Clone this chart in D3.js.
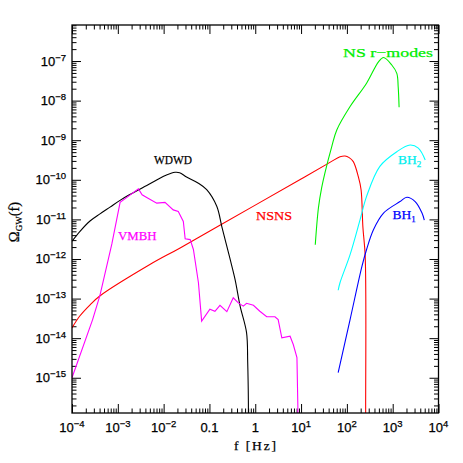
<!DOCTYPE html>
<html lang="en">
<head>
<meta charset="utf-8"/>
<title>GW backgrounds</title>
<script src="https://cdn.jsdelivr.net/npm/d3@7"></script>
<style>
  body { margin: 0; background: #fff; }
  svg { display: block; }
</style>
</head>
<body>
<svg id="chart"></svg>
<script>
// values, as log10(f / Hz) and log10(Omega_GW)
const wdwdLogF = [-4, -3.825, -3.607, -3.389, -3.17, -2.952, -2.749, -2.3, -2, -1.85, -1.75, -1.65, -1.5, -1.25, -1.06, -0.84, -0.73, -0.55, -0.44, -0.33, -0.19, -0.165, -0.15, -0.15]
const wdwdLogO = [-11.55, -11.3, -11.04, -10.86, -10.69, -10.52, -10.38, -10.1, -9.91, -9.84, -9.81, -9.82, -9.93, -10.08, -10.25, -10.67, -11.18, -12.0, -12.52, -13.19, -13.86, -14.6, -15.6, -17]

const vmbhLogF = [-4, -3.55, -3.39, -3.13, -2.95, -2.75, -2.55, -2.47, -2.35, -2.15, -1.97, -1.79, -1.68, -1.57, -1.53, -1.42, -1.35, -1.24, -1.17, -0.99, -0.88, -0.77, -0.62, -0.48, -0.37, -0.26, -0.19, -0.04, 0.10, 0.25, 0.43, 0.50, 0.58, 0.76, 0.83, 0.91, 0.93, 0.93]
const vmbhLogO = [-15.0, -13.53, -12.92, -11.62, -10.57, -10.4, -10.23, -10.38, -10.46, -10.59, -10.57, -10.76, -10.8, -11.05, -11.49, -11.51, -11.76, -12.6, -13.57, -13.27, -13.32, -13.17, -13.33, -12.98, -13.11, -13.19, -13.12, -13.17, -13.32, -13.46, -13.46, -13.53, -13.99, -13.95, -14.16, -14.49, -15.71, -17]

const nsnsLogF = [-4, -3.83, -3.6, -3.4, -2.3, -1.64, 0, 1, 1.63, 1.85, 1.96, 2.05, 2.14, 2.25, 2.31, 2.35, 2.4, 2.41, 2.41]
const nsnsLogO = [-13.74, -13.44, -13.15, -12.94, -12.14, -11.72, -10.64, -9.98, -9.56, -9.42, -9.4, -9.44, -9.54, -9.92, -10.25, -11.2, -11.93, -15.8, -17]

const rmodeLogF = [1.31, 1.38, 1.45, 1.52, 1.67, 1.78, 2.07, 2.43, 2.69, 2.8, 2.98, 3.09, 3.12, 3.14]
const rmodeLogO = [-11.64, -10.7, -10.2, -9.83, -9.16, -8.74, -8.15, -7.56, -7.02, -6.91, -7.1, -7.31, -7.65, -8.17]

const bh2LogF = [1.81, 1.85, 2.07, 2.29, 2.43, 2.72, 3.09, 3.38, 3.56, 3.71]
const bh2LogO = [-12.79, -12.6, -11.89, -11.0, -10.42, -9.66, -9.29, -9.12, -9.2, -9.5]

const bh1LogF = [1.81, 2.07, 2.33, 2.43, 2.58, 2.8, 3.16, 3.31, 3.49, 3.64, 3.69]
const bh1LogO = [-14.87, -13.53, -12.18, -11.76, -11.26, -10.84, -10.55, -10.44, -10.55, -10.84, -11.02]

const xMajorExp = [-4, -3, -2, -1, 0, 1, 2, 3, 4]
const xTickLabels = [['10', '-4'], ['10', '-3'], ['10', '-2'], ['0.1', ''], ['1', ''], ['10', '1'], ['10', '2'], ['10', '3'], ['10', '4']]
const yMajorExp = [-15, -14, -13, -12, -11, -10, -9, -8, -7]

const width = 463
const height = 463
const plotL = 72, plotR = 438.5, plotT = 25, plotB = 413

const svg = d3.select('#chart').attr('width', width).attr('height', height)

const x = d3.scaleLog().domain([1e-4, 1e4]).range([plotL, plotR])
const y = d3.scaleLog().domain([Math.pow(10, -15.89), Math.pow(10, -6.09)]).range([plotB, plotT])

svg.append('defs').append('clipPath').attr('id', 'plotclip')
  .append('rect').attr('x', plotL).attr('y', plotT).attr('width', plotR - plotL).attr('height', plotB - plotT)

// minor ticks 2..9 in each decade
function minors(lo, hi, dom) {
  const out = []
  for (let e = lo; e <= hi; e++) {
    for (let m = 2; m <= 9; m++) {
      const v = m * Math.pow(10, e)
      if (v > dom[0] && v < dom[1]) out.push(v)
    }
  }
  return out
}
const xMajor = xMajorExp.map(e => Math.pow(10, e))
const yMajor = yMajorExp.map(e => Math.pow(10, e))
const xMinor = minors(-4, 3, x.domain())
const yMinor = minors(-16, -7, y.domain())

function tickAxis(axisFn, scale, vals, size, transform) {
  svg.append('g')
    .attr('transform', transform)
    .call(axisFn(scale).tickValues(vals).tickSizeInner(-size).tickSizeOuter(0).tickFormat(''))
    .call(g => g.select('.domain').remove())
    .call(g => g.selectAll('line').attr('stroke', '#000').attr('stroke-width', 1))
}
tickAxis(d3.axisBottom, x, xMajor, 9, `translate(0,${plotB})`)
tickAxis(d3.axisBottom, x, xMinor, 4.5, `translate(0,${plotB})`)
tickAxis(d3.axisTop, x, xMajor, 9, `translate(0,${plotT})`)
tickAxis(d3.axisTop, x, xMinor, 4.5, `translate(0,${plotT})`)
tickAxis(d3.axisLeft, y, yMajor, 9, `translate(${plotL},0)`)
tickAxis(d3.axisLeft, y, yMinor, 4.5, `translate(${plotL},0)`)
tickAxis(d3.axisRight, y, yMajor, 9, `translate(${plotR},0)`)
tickAxis(d3.axisRight, y, yMinor, 4.5, `translate(${plotR},0)`)

// tick labels
const tickFont = '"Liberation Sans", Arial, sans-serif'
const xl = svg.append('g').attr('font-family', tickFont).attr('font-size', 13).attr('fill', '#000')
  .attr('stroke', '#000').attr('stroke-width', 0.25)
xMajor.forEach((v, i) => {
  const [base, sup] = xTickLabels[i]
  const t = xl.append('text').attr('x', x(v)).attr('y', 432).attr('text-anchor', 'middle')
  t.append('tspan').text(base)
  if (sup) t.append('tspan').attr('font-size', 9.5).attr('dy', -5).text(sup.replace('-', '\u2212'))
})
const yl = svg.append('g').attr('font-family', tickFont).attr('font-size', 13).attr('fill', '#000')
  .attr('stroke', '#000').attr('stroke-width', 0.25)
yMajor.forEach((v, i) => {
  const t = yl.append('text').attr('x', 66).attr('y', y(v) + 4.5).attr('text-anchor', 'end')
  t.append('tspan').text('10')
  t.append('tspan').attr('font-size', 9.5).attr('dy', -5).text('\u2212' + Math.abs(yMajorExp[i]))
})

// curves
const smooth = d3.line()
  .x(d => x(Math.pow(10, d[0])))
  .y(d => y(Math.pow(10, d[1])))
  .curve(d3.curveCatmullRom.alpha(0.5))
const jagged = d3.line()
  .x(d => x(Math.pow(10, d[0])))
  .y(d => y(Math.pow(10, d[1])))

const series = [
  { f: nsnsLogF, o: nsnsLogO, color: '#ff0000', gen: smooth },
  { f: wdwdLogF, o: wdwdLogO, color: '#000000', gen: smooth },
  { f: vmbhLogF, o: vmbhLogO, color: '#ff00ff', gen: jagged },
  { f: rmodeLogF, o: rmodeLogO, color: '#00f000', gen: smooth },
  { f: bh2LogF, o: bh2LogO, color: '#00ffff', gen: smooth },
  { f: bh1LogF, o: bh1LogO, color: '#0000ff', gen: smooth }
]
const plot = svg.append('g').attr('clip-path', 'url(#plotclip)')
series.forEach(s => {
  plot.append('path')
    .datum(s.f.map((v, i) => [v, s.o[i]]))
    .attr('d', s.gen)
    .attr('fill', 'none')
    .attr('stroke', s.color)
    .attr('stroke-width', 1.1)
})

// frame
svg.append('rect').attr('x', plotL).attr('y', plotT).attr('width', plotR - plotL).attr('height', plotB - plotT)
  .attr('fill', 'none').attr('stroke', '#000').attr('stroke-width', 1.3)

// series labels
const serif = '"Liberation Serif", "Times New Roman", serif'
const labels = svg.append('g').attr('font-family', serif).attr('font-size', 13.5).attr('stroke-width', 0.25)
function label(txt, lx, ly, color, len) {
  const t = labels.append('text').attr('x', lx).attr('y', ly).attr('fill', color).attr('stroke', color).text(txt)
  if (len) t.attr('textLength', len).attr('lengthAdjust', 'spacingAndGlyphs')
  return t
}
label('WDWD', 154, 164, '#000', 38)
label('VMBH', 118, 240, '#ff00ff', 38.5)
label('NSNS', 256, 219.5, '#ff0000', 36)
label('NS r\u2212modes', 343, 57, '#00ee00', 90)
const bh2 = label('', 398, 163.5, '#00eeee')
bh2.append('tspan').text('BH')
bh2.append('tspan').attr('font-size', 9).attr('dy', 3).text('2')
const bh1 = label('', 392.5, 219, '#0000ff')
bh1.append('tspan').text('BH')
bh1.append('tspan').attr('font-size', 9).attr('dy', 3).text('1')

// axis titles
svg.append('text').attr('x', 234).attr('y', 450)
  .attr('font-family', serif).attr('font-size', 13.5).attr('stroke', '#000').attr('stroke-width', 0.25)
  .attr('textLength', 42).attr('lengthAdjust', 'spacing').text('f [Hz]')
const yt = svg.append('text').attr('transform', 'translate(19,222) rotate(-90)').attr('text-anchor', 'middle')
  .attr('font-family', serif).attr('font-size', 14.5).attr('stroke', '#000').attr('stroke-width', 0.25)
yt.append('tspan').text('\u03a9')
yt.append('tspan').attr('font-size', 9).attr('dy', 3).text('GW')
yt.append('tspan').attr('dy', -3).text('(f)')
</script>
</body>
</html>
